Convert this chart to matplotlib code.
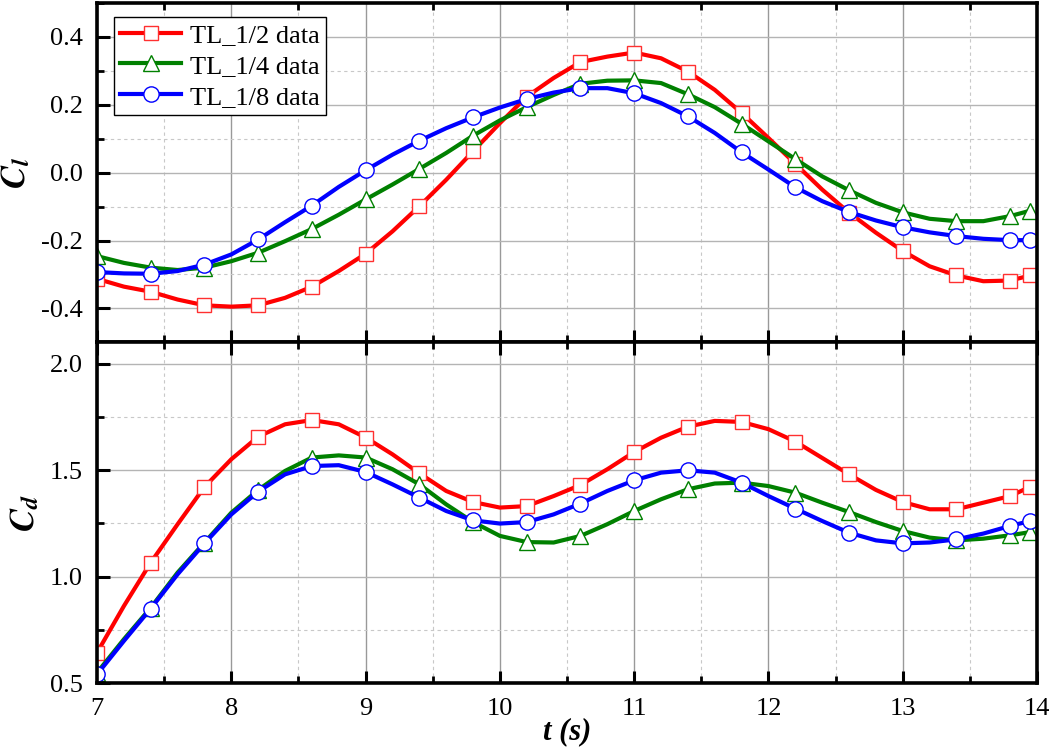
import matplotlib
matplotlib.use("Agg")
import matplotlib.pyplot as plt
from matplotlib.ticker import MultipleLocator, FormatStrFormatter

# ---------------- data ----------------
t = [7.0, 7.2, 7.4, 7.6, 7.8, 8.0, 8.2, 8.4, 8.6, 8.8, 9.0, 9.2, 9.4, 9.6, 9.8,
     10.0, 10.2, 10.4, 10.6, 10.8, 11.0, 11.2, 11.4, 11.6, 11.8, 12.0, 12.2,
     12.4, 12.6, 12.8, 13.0, 13.2, 13.4, 13.6, 13.8, 13.95]

cl_half = [-0.313, -0.336, -0.351, -0.374, -0.391, -0.395, -0.391, -0.369, -0.336,
           -0.290, -0.239, -0.173, -0.099, -0.021, 0.063, 0.146, 0.224, 0.279,
           0.326, 0.342, 0.354, 0.337, 0.298, 0.244, 0.176, 0.102, 0.026, -0.050,
           -0.118, -0.177, -0.231, -0.276, -0.303, -0.320, -0.318, -0.303]
cl_quarter = [-0.246, -0.266, -0.280, -0.287, -0.280, -0.261, -0.236, -0.202, -0.166,
              -0.124, -0.079, -0.035, 0.011, 0.058, 0.109, 0.154, 0.193, 0.229,
              0.262, 0.271, 0.272, 0.264, 0.231, 0.193, 0.144, 0.092, 0.040, -0.011,
              -0.052, -0.089, -0.117, -0.136, -0.143, -0.143, -0.128, -0.112]
cl_eighth = [-0.293, -0.297, -0.298, -0.290, -0.271, -0.241, -0.197, -0.146, -0.097,
             -0.042, 0.007, 0.053, 0.094, 0.131, 0.163, 0.192, 0.217, 0.236,
             0.249, 0.249, 0.234, 0.205, 0.166, 0.117, 0.060, 0.009, -0.043, -0.084,
             -0.116, -0.141, -0.161, -0.176, -0.187, -0.195, -0.199, -0.199]

cd_half = [0.643, 0.862, 1.066, 1.246, 1.421, 1.551, 1.657, 1.715, 1.735, 1.715,
           1.653, 1.574, 1.485, 1.402, 1.350, 1.324, 1.331, 1.378, 1.430, 1.504,
           1.585, 1.652, 1.704, 1.731, 1.726, 1.692, 1.634, 1.557, 1.480, 1.407,
           1.350, 1.316, 1.316, 1.347, 1.378, 1.422]
cd_quarter = [0.549, 0.706, 0.854, 1.019, 1.160, 1.300, 1.407, 1.496, 1.559, 1.569,
              1.559, 1.504, 1.433, 1.339, 1.256, 1.191, 1.162, 1.160, 1.191, 1.246,
              1.308, 1.363, 1.410, 1.437, 1.441, 1.425, 1.394, 1.347, 1.303, 1.256,
              1.214, 1.183, 1.170, 1.178, 1.194, 1.209]
cd_eighth = [0.541, 0.698, 0.850, 1.011, 1.156, 1.292, 1.399, 1.480, 1.519, 1.523,
             1.491, 1.433, 1.371, 1.308, 1.264, 1.249, 1.256, 1.292, 1.343, 1.402,
             1.452, 1.488, 1.499, 1.488, 1.441, 1.378, 1.319, 1.261, 1.206, 1.170,
             1.156, 1.160, 1.175, 1.202, 1.238, 1.261]

labels = ["TL_1/2 data", "TL_1/4 data", "TL_1/8 data"]
x_ticks = [7, 8, 9, 10, 11, 12, 13, 14]
cl_ticks = [-0.4, -0.2, 0.0, 0.2, 0.4]
cd_ticks = [0.5, 1.0, 1.5, 2.0]

# ---------------- style ----------------
plt.rcParams['font.family'] = ['Liberation Serif', 'DejaVu Serif']
plt.rcParams['mathtext.fontset'] = 'stix'
plt.rcParams['axes.unicode_minus'] = False

colors = ['#ff0000', '#008000', '#0000ff']
edge_colors = ['#ff3030', '#008000', '#0000ff']
markers = ['s', '^', 'o']
msizes = [10, 11, 11]
mark_idx = list(range(0, len(t) - 1, 2)) + [len(t) - 1]

fig = plt.figure(figsize=(10.55, 7.49), dpi=100)
ax1 = fig.add_axes([0.092, 0.543, 0.891, 0.453])
ax2 = fig.add_axes([0.092, 0.088, 0.891, 0.455])


def style_axis(ax, ylim, minor, ticks, top_major):
    ax.set_xlim(7, 14)
    ax.set_ylim(*ylim)
    ax.set_xticks(x_ticks)
    ax.xaxis.set_minor_locator(MultipleLocator(0.5))
    ax.set_yticks(ticks)
    ax.yaxis.set_minor_locator(MultipleLocator(minor))
    ax.yaxis.set_major_formatter(FormatStrFormatter('%.1f'))
    ax.grid(which='major', axis='x', color='#999999', linestyle='-', linewidth=1.0)
    ax.grid(which='major', axis='y', color='#b4b4b4', linestyle='-', linewidth=1.0)
    ax.grid(which='minor', color='#c8c8c8', linestyle=(0, (3, 3)), linewidth=0.8)
    ax.set_axisbelow(True)
    for s in ax.spines.values():
        s.set_linewidth(2.6)
        s.set_zorder(10)
    ax.tick_params(which='major', direction='in', length=9, width=2.2,
                   labelsize=19, top=top_major, right=False, pad=10)
    ax.tick_params(which='minor', direction='in', length=5, width=2.0,
                   top=True, right=False)


series1 = [cl_half, cl_quarter, cl_eighth]
series2 = [cd_half, cd_quarter, cd_eighth]
for i in range(3):
    ax1.plot(t, series1[i], color=colors[i], lw=3, marker=markers[i], ms=msizes[i],
             mfc='white', mec=edge_colors[i], mew=1.0, markevery=mark_idx,
             label=labels[i], zorder=3 + i)
    ax2.plot(t, series2[i], color=colors[i], lw=3, marker=markers[i], ms=msizes[i],
             mfc='white', mec=edge_colors[i], mew=1.0, markevery=mark_idx,
             zorder=3 + i)

style_axis(ax1, (-0.5, 0.5), 0.1, cl_ticks, False)
style_axis(ax2, (0.5, 2.1), 0.25, cd_ticks, True)
ax1.tick_params(axis='x', labelbottom=False)
ax2.tick_params(axis='x', pad=11)

ax1.set_ylabel(r'$\mathbfit{C}_{\mathbfit{l}}$', fontsize=25, labelpad=6)
ax2.set_ylabel(r'$\mathbfit{C}_{\mathbfit{d}}$', fontsize=25, labelpad=6)
ax2.set_xlabel('t (s)', fontsize=22, fontweight='bold', fontstyle='italic', labelpad=-2)

leg = ax1.legend(loc='upper left', bbox_to_anchor=(0.012, 0.975), fontsize=19,
                 frameon=True, fancybox=False, edgecolor='black', framealpha=1,
                 handlelength=2.3, borderpad=0.25, labelspacing=0.28,
                 handletextpad=0.35, borderaxespad=0.2)
leg.get_frame().set_linewidth(1.0)

fig.savefig('out.png', dpi=100)
